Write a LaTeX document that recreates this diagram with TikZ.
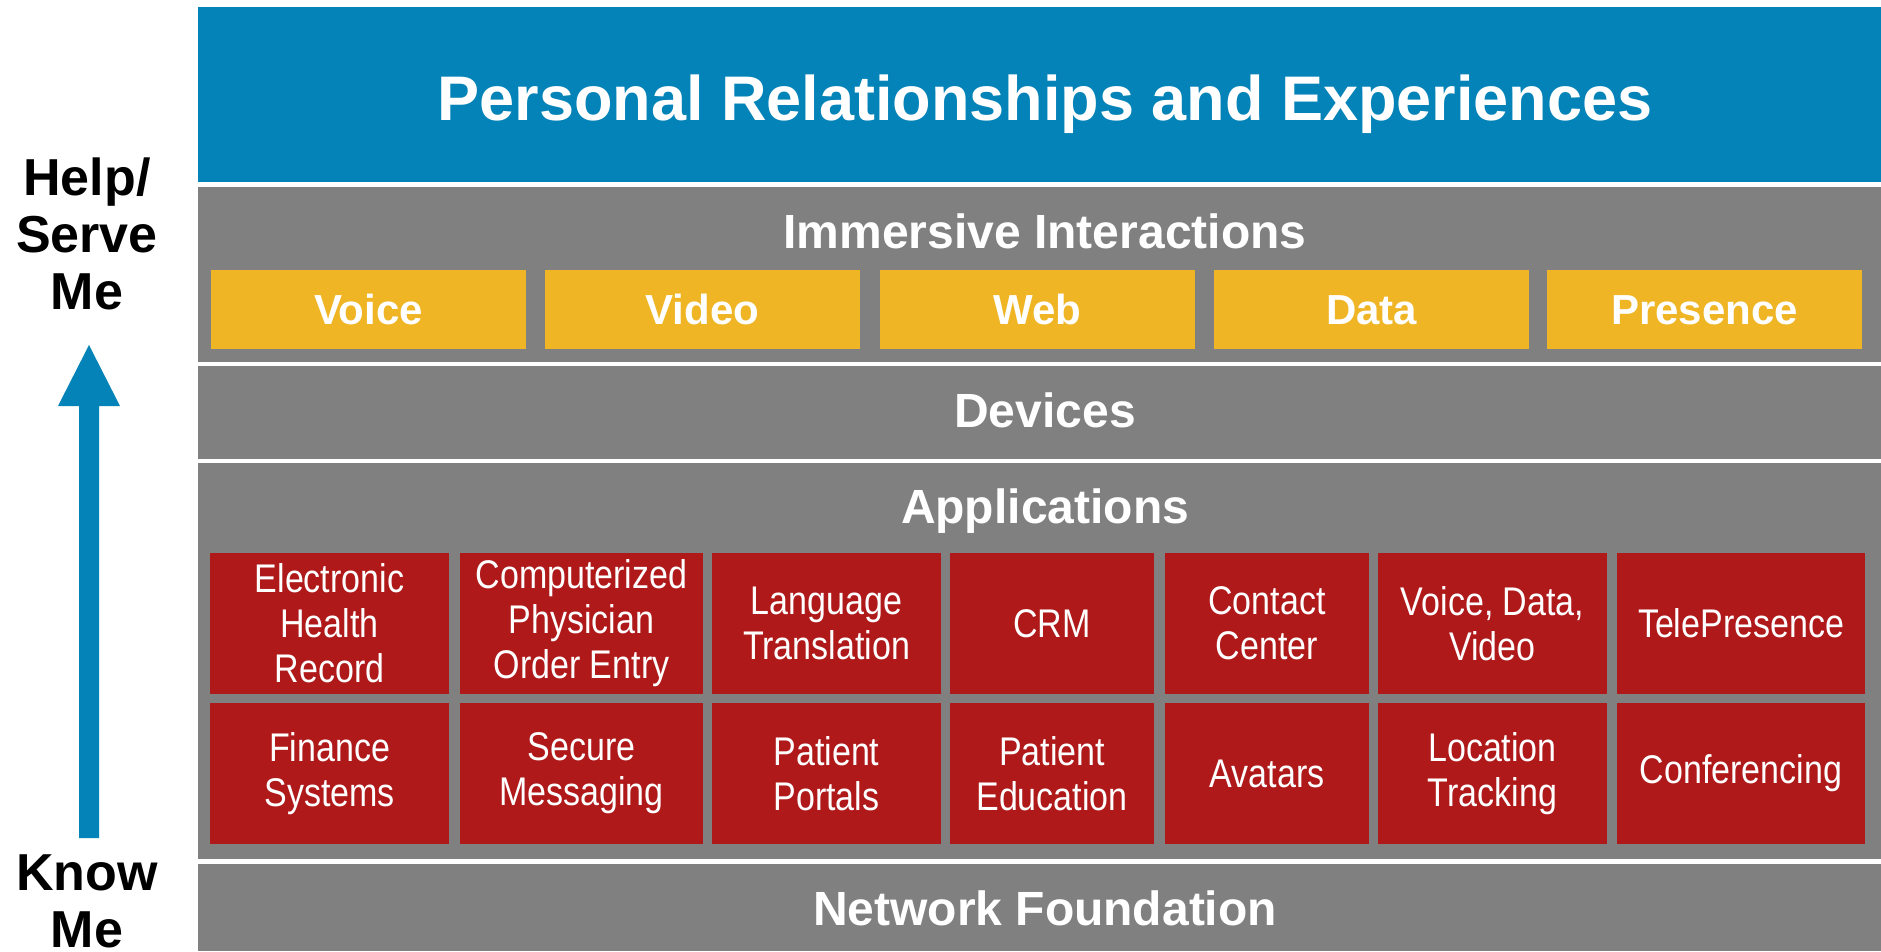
\documentclass[tikz,border=0pt]{standalone}
\usepackage{fontspec}
\setmainfont{Liberation Sans}
\newfontfamily\narrowsans{Liberation Sans}[FakeStretch=0.85]
\definecolor{cblue}{RGB}{3,131,184}
\definecolor{cgray}{RGB}{128,128,128}
\definecolor{cyellow}{RGB}{239,181,37}
\definecolor{cred}{RGB}{176,25,26}
\begin{document}
\begin{tikzpicture}[x=1pt,y=-1pt,
  band/.style={rectangle, inner sep=0pt, outer sep=0pt, anchor=north west, minimum width=1683pt},
  headtext/.style={anchor=base, inner sep=0pt, text=white, font=\bfseries\fontsize{48}{56}\selectfont},
  ybox/.style={rectangle, inner sep=0pt, outer sep=0pt, anchor=north west, fill=cyellow,
    minimum width=315pt, minimum height=79pt, text=white, text height=30pt, text depth=0pt,
    font=\bfseries\fontsize{42}{48}\selectfont},
  rbox/.style={rectangle, inner sep=0pt, outer sep=0pt, anchor=north west, fill=cred,
    minimum height=141pt, text=white, align=center,
    font=\narrowsans\fontsize{40}{45}\selectfont},
  sidetext/.style={anchor=north, inner sep=0pt, align=center, text=black,
    font=\bfseries\fontsize{52}{57}\selectfont}]
\useasboundingbox[fill=white] (0,0) rectangle (1881,951);

% bands
\node[band, fill=cblue, minimum height=175pt] (toplayer) at (198,7) {};
\node[band, fill=cgray, minimum height=175pt] (immersive) at (198,187) {};
\node[band, fill=cgray, minimum height=93pt] (devices) at (198,366) {};
\node[band, fill=cgray, minimum height=396pt] (applications) at (198,463) {};
\node[band, fill=cgray, minimum height=87pt] (network) at (198,864) {};

% band titles
\node[headtext, font=\bfseries\fontsize{63}{70}\selectfont] (titletext) at (1045,120) {Personal Relationships and Experiences};
\node[headtext] (immersivetext) at (1045,248) {Immersive Interactions};
\node[headtext] (devicestext) at (1045,427) {Devices};
\node[headtext] (applicationstext) at (1045,523) {Applications};
\node[headtext] (networktext) at (1045,925) {Network Foundation};

% immersive interactions
\node[ybox] (voice) at (211,270) {Voice};
\node[ybox] (video) at (545,270) {Video};
\node[ybox] (web) at (880,270) {Web};
\node[ybox] (data) at (1214,270) {Data};
\node[ybox] (presence) at (1547,270) {Presence};

% applications, row 1
\node[rbox, minimum width=239pt] (ehr) at (210,553) {Electronic\\Health\\Record};
\node[rbox, minimum width=243pt] (cpoe) at (460,553) {Computerized\\Physician\\Order Entry};
\node[rbox, minimum width=229pt] (lang) at (712,553) {Language\\Translation};
\node[rbox, minimum width=204pt] (crm) at (950,553) {CRM};
\node[rbox, minimum width=204pt] (contact) at (1165,553) {Contact\\Center};
\node[rbox, minimum width=229pt] (vdv) at (1378,553) {Voice, Data,\\Video};
\node[rbox, minimum width=248pt] (tele) at (1617,553) {TelePresence};
% applications, row 2
\node[rbox, minimum width=239pt] (finance) at (210,703) {Finance\\Systems};
\node[rbox, minimum width=243pt] (secure) at (460,703) {Secure\\Messaging};
\node[rbox, minimum width=229pt] (portals) at (712,703) {Patient\\Portals};
\node[rbox, minimum width=204pt] (education) at (950,703) {Patient\\Education};
\node[rbox, minimum width=204pt] (avatars) at (1165,703) {Avatars};
\node[rbox, minimum width=229pt] (location) at (1378,703) {Location\\Tracking};
\node[rbox, minimum width=248pt] (conf) at (1617,703) {Conferencing};

% side labels and arrow
\node[sidetext] (helpme) at (87,158) {Help/\\Serve\\Me};
\node[sidetext] (knowme) at (87,855) {Know\\Me};
\coordinate (arrowtip) at (89,345);
\coordinate (arrowtail) at (89,838);
\fill[cblue] (arrowtip) -- (120,406) -- (99,406) -- (99,838) -- (79,838) -- (79,406) -- (58,406) -- cycle;
\end{tikzpicture}
\end{document}
